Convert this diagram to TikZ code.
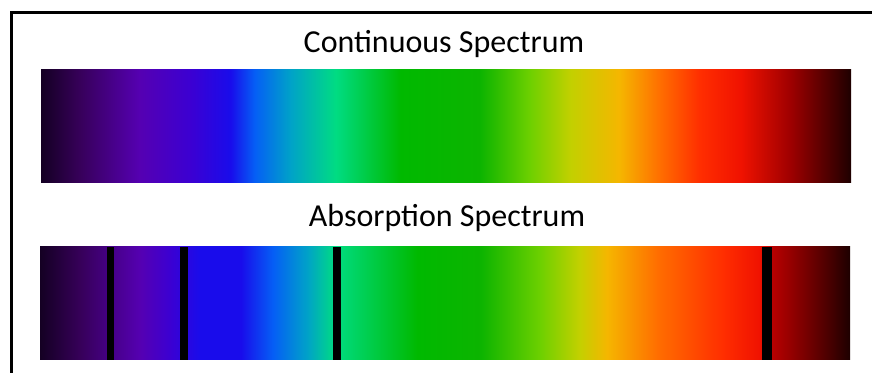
\documentclass[tikz,border=0pt]{standalone}
\usepackage{fontspec}
\setmainfont{Carlito}
\usetikzlibrary{positioning}
\definecolor{SpecNight}{RGB}{20,0,35}
\definecolor{SpecPlum}{RGB}{55,0,90}
\definecolor{SpecPurple}{RGB}{85,0,178}
\definecolor{SpecIndigo}{RGB}{60,0,210}
\definecolor{SpecBlue}{RGB}{25,12,235}
\definecolor{SpecAzure}{RGB}{5,95,245}
\definecolor{SpecCyan}{RGB}{0,162,200}
\definecolor{SpecAqua}{RGB}{0,220,130}
\definecolor{SpecGreen}{RGB}{0,185,0}
\definecolor{SpecGrass}{RGB}{12,180,0}
\definecolor{SpecLime}{RGB}{110,208,0}
\definecolor{SpecChart}{RGB}{195,208,0}
\definecolor{SpecAmber}{RGB}{245,182,0}
\definecolor{SpecOrange}{RGB}{255,110,0}
\definecolor{SpecVermil}{RGB}{255,45,0}
\definecolor{SpecRed}{RGB}{240,18,0}
\definecolor{SpecMaroon}{RGB}{160,0,0}
\definecolor{SpecBrown}{RGB}{30,0,0}
\pgfdeclarehorizontalshading{spectop}{100bp}{%
  color(0bp)=(SpecNight); color(25bp)=(SpecNight); color(27.4bp)=(SpecPlum);
  color(31.1bp)=(SpecPurple); color(34.2bp)=(SpecIndigo); color(36.7bp)=(SpecBlue);
  color(38.2bp)=(SpecAzure); color(40.4bp)=(SpecCyan); color(43.2bp)=(SpecAqua);
  color(47.2bp)=(SpecGreen); color(52.1bp)=(SpecGrass); color(55.2bp)=(SpecLime);
  color(57.7bp)=(SpecChart); color(60.7bp)=(SpecAmber); color(63.2bp)=(SpecOrange);
  color(65.7bp)=(SpecVermil); color(68.2bp)=(SpecRed); color(71.2bp)=(SpecMaroon);
  color(75bp)=(SpecBrown); color(100bp)=(SpecBrown)}
\pgfdeclarehorizontalshading{specbottom}{100bp}{%
  color(0bp)=(SpecNight); color(25bp)=(SpecNight); color(27.5bp)=(SpecPlum);
  color(31.2bp)=(SpecPurple); color(33bp)=(SpecIndigo); color(34.9bp)=(SpecBlue);
  color(37.4bp)=(SpecBlue); color(39.4bp)=(SpecAzure); color(41.5bp)=(SpecCyan);
  color(43.2bp)=(SpecAqua); color(48.3bp)=(SpecGreen); color(52.2bp)=(SpecGrass);
  color(55.9bp)=(SpecLime); color(58.3bp)=(SpecChart); color(60bp)=(SpecAmber);
  color(63.1bp)=(SpecOrange); color(67.2bp)=(SpecVermil); color(69.4bp)=(SpecRed);
  color(70.2bp)=(SpecMaroon!115!black); color(72.5bp)=(SpecMaroon!70!black);
  color(75bp)=(SpecBrown); color(100bp)=(SpecBrown)}
\tikzset{
  spec/frame/.style={draw=black, line width=2.25pt},
  spec/title/.style={font=\fontsize{24}{28}\selectfont, text=black, anchor=base, inner sep=0pt},
  spec/bar/.style={draw=none},
  spec/gap/.style={fill=black, draw=none}
}
\begin{document}
\begin{tikzpicture}[x=0.75pt,y=-0.75pt]
  \useasboundingbox (0,0) rectangle (872,373);
  \fill[white] (0,0) rectangle (872,373);
  \draw[spec/frame] (11,374) |- (874,13);
  % continuous
  \node[spec/title] (conttitle) at (444,53) {Continuous Spectrum};
  \shade[spec/bar, shading=spectop] (41,70) rectangle (851,183);
  % absorption
  \node[spec/title] (abstitle) at (447,227) {Absorption Spectrum};
  \shade[spec/bar, shading=specbottom] (40,247) rectangle (850,360);
  \foreach \xa/\xb in {107/114, 180/188, 333/341, 762/772}
    \fill[spec/gap] (\xa,247) rectangle (\xb,360);
\end{tikzpicture}
\end{document}
